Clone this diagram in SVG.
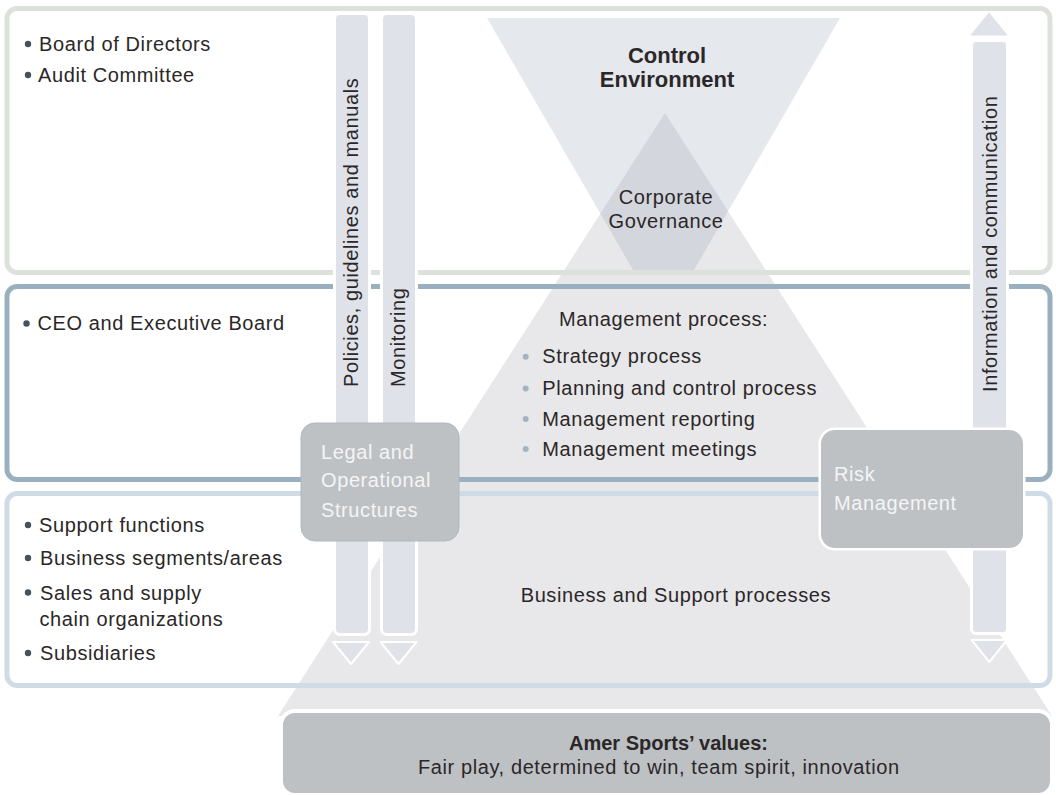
<svg xmlns="http://www.w3.org/2000/svg" width="1056" height="795" viewBox="0 0 1056 795">
<style>
text{font-family:"Liberation Sans",Arial,sans-serif;font-size:20px;letter-spacing:0.6px;fill:#2b2728}
.b{font-weight:bold;letter-spacing:0}
.w{fill:#f4f5f6}
.frame{fill:none;stroke-width:5}
.shaft{fill:#dfe2e9;stroke:#ffffff;stroke-width:6;paint-order:stroke}
.head{fill:#dfe2e9;stroke:#ffffff;stroke-width:2;stroke-linejoin:round}
.box{fill:#bec1c4}
.dk{fill:#46525c}
.lt{fill:#a3b4c1}
</style>
<g id="background-shapes">
<polygon id="process-triangle" points="665,113 1052,716 278,716" fill="#e8e8ea"/>
<polygon id="control-environment" points="487,18 840,18 694,270 633,270" fill="#e5e8ed"/>
<polygon id="corporate-governance" points="665,113 728,211 694,270 633,270 600.4,213.5" fill="#d3d6dc"/>
</g>
<g id="levels">
<rect id="board-level" class="frame" x="7" y="8.5" width="1043" height="264" rx="10" stroke="#dce1dc"/>
<rect id="executive-level" class="frame" x="7" y="286.5" width="1043" height="193" rx="10" stroke="#9bb0bf"/>
<rect id="operations-level" class="frame" x="7" y="493.5" width="1043" height="192" rx="10" stroke="#cfdce6"/>
</g>
<g id="connectors">
<rect class="shaft" x="336" y="15" width="32" height="618" rx="4"/>
<polygon class="head" points="333,642 369,642 351,664"/>
<rect class="shaft" x="383" y="15" width="32" height="618" rx="4"/>
<polygon class="head" points="380.5,642 416.5,642 398.5,664"/>
<rect class="shaft" x="973" y="42" width="33" height="590" rx="3"/>
<polygon points="971,35 1007,35 989,13" fill="#dfe2e9" stroke="#dfe2e9" stroke-width="1" stroke-linejoin="round"/>
<polygon class="head" points="971.5,640 1007,640 989.3,662"/>
<text transform="translate(358,387) rotate(-90)">Policies, guidelines and manuals</text>
<text transform="translate(405,387) rotate(-90)">Monitoring</text>
<text transform="translate(997,392) rotate(-90)">Information and communication</text>
</g>
<g id="board-text">
<circle class="dk" cx="28" cy="44" r="3.2"/>
<text x="39" y="51">Board of Directors</text>
<circle class="dk" cx="28" cy="75" r="3.2"/>
<text x="38" y="82">Audit Committee</text>
</g>
<g id="executive-text">
<circle class="dk" cx="26.5" cy="323.5" r="3.2"/>
<text x="37.5" y="330">CEO and Executive Board</text>
</g>
<g id="operations-text">
<circle class="dk" cx="28" cy="525" r="3.2"/>
<text x="39" y="532">Support functions</text>
<circle class="dk" cx="28" cy="558" r="3.2"/>
<text x="40" y="565">Business segments/areas</text>
<circle class="dk" cx="28" cy="592.5" r="3.2"/>
<text x="40" y="599.5">Sales and supply</text>
<text x="39.5" y="626">chain organizations</text>
<circle class="dk" cx="28" cy="653" r="3.2"/>
<text x="40" y="660">Subsidiaries</text>
</g>
<g id="control-environment-label">
<text class="b" x="667" y="62.7" font-size="22" text-anchor="middle" style="font-size:22px">Control</text>
<text class="b" x="667" y="86.7" text-anchor="middle" style="font-size:22px">Environment</text>
</g>
<g id="corporate-governance-label">
<text x="666" y="204.3" text-anchor="middle">Corporate</text>
<text x="666" y="228.3" text-anchor="middle">Governance</text>
</g>
<g id="management-process">
<text x="559" y="325.7">Management process:</text>
<circle class="lt" cx="525.7" cy="356.7" r="3"/>
<text x="542.3" y="363.3">Strategy process</text>
<circle class="lt" cx="525.7" cy="388.4" r="3"/>
<text x="542.3" y="395">Planning and control process</text>
<circle class="lt" cx="525.7" cy="419.1" r="3"/>
<text x="542.3" y="425.7">Management reporting</text>
<circle class="lt" cx="525.7" cy="449.1" r="3"/>
<text x="542.3" y="455.7">Management meetings</text>
</g>
<g id="business-processes">
<text x="520.7" y="601.7">Business and Support processes</text>
</g>
<g id="legal-structures">
<rect class="box" x="301" y="423" width="158" height="118" rx="14" stroke="#aab8c4" stroke-width="1"/>
<text class="w" x="321" y="459">Legal and</text>
<text class="w" x="321" y="487.3">Operational</text>
<text class="w" x="321" y="516.5">Structures</text>
</g>
<g id="risk-management">
<rect class="box" x="821" y="430" width="202" height="118" rx="14" stroke="#ffffff" stroke-width="5" paint-order="stroke"/>
<text class="w" x="834" y="481">Risk</text>
<text class="w" x="834" y="510">Management</text>
</g>
<g id="values">
<rect class="box" x="283" y="713" width="767" height="80" rx="12" stroke="#ffffff" stroke-width="8" paint-order="stroke"/>
<text class="b" x="569" y="750">Amer Sports’ values:</text>
<text x="418" y="774">Fair play, determined to win, team spirit, innovation</text>
</g>
</svg>
